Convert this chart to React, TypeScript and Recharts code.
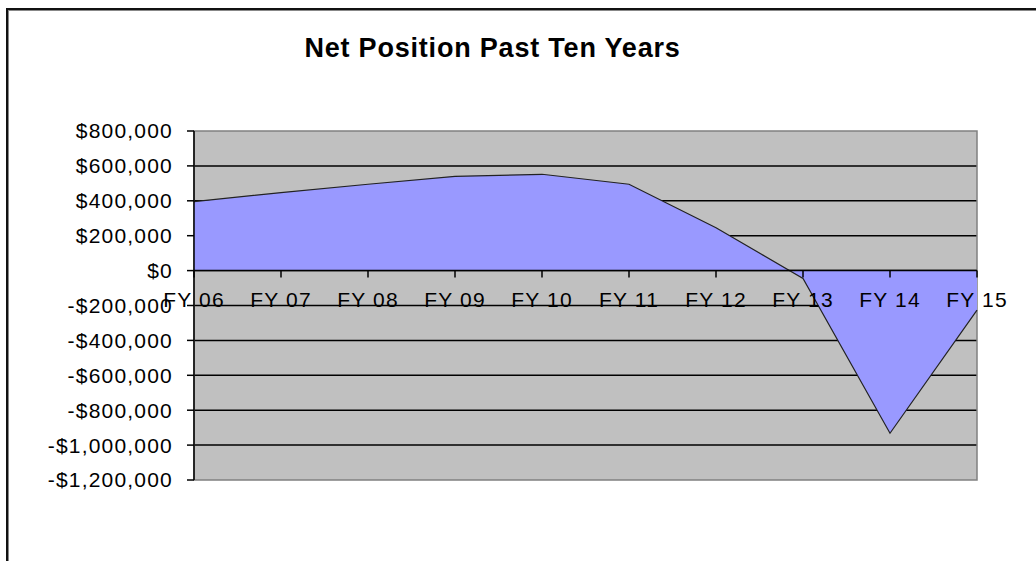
import React from "react";
import {
  AreaChart,
  Area,
  XAxis,
  YAxis,
  CartesianGrid,
  ReferenceLine,
  ReferenceArea,
} from "recharts";

const YEARS = ["FY 06", "FY 07", "FY 08", "FY 09", "FY 10", "FY 11", "FY 12", "FY 13", "FY 14", "FY 15"];
const NET_POSITION = [395000, 447000, 495000, 540000, 552000, 495000, 246000, -45000, -932000, -226000];
const Y_TICKS = [800000, 600000, 400000, 200000, 0, -200000, -400000, -600000, -800000, -1000000, -1200000];
const GRID_VALUES = [600000, 400000, 200000, 0, -200000, -400000, -600000, -800000, -1000000];
const TITLE = "Net Position Past Ten Years";

const Y_MIN = -1200000;
const Y_MAX = 800000;

const data = YEARS.map((year, i) => ({ year, value: NET_POSITION[i] }));

const WIDTH = 1036;
const HEIGHT = 561;
const MARGIN = { top: 131, right: 59, bottom: 80, left: 0 };
const X_AXIS_H = 1;
const PLOT_H = HEIGHT - MARGIN.top - MARGIN.bottom - X_AXIS_H;
const ZERO_Y = MARGIN.top + (PLOT_H * (Y_MAX - 0)) / (Y_MAX - Y_MIN);

const FONT = "'Liberation Sans', Arial, sans-serif";

const fmt = (v: number) =>
  v < 0 ? `-$${Math.abs(v).toLocaleString("en-US")}` : `$${v.toLocaleString("en-US")}`;

function XTick(props: any) {
  const { x, payload } = props;
  return (
    <g>
      <line x1={x} x2={x} y1={ZERO_Y} y2={ZERO_Y + 7} stroke="#000" strokeWidth={1.5} />
      <text
        x={x}
        y={ZERO_Y + 36}
        textAnchor="middle"
        fontFamily={FONT}
        fontSize={21}
        letterSpacing={1.2}
        fill="#000"
      >
        {payload.value}
      </text>
    </g>
  );
}

export default function App() {
  return (
    <div style={{ position: "absolute", left: 0, top: 0, width: WIDTH, height: HEIGHT, overflow: "hidden", background: "#fff" }}>
      <div
        style={{
          position: "absolute",
          left: 6,
          top: 8,
          width: 1200,
          height: 800,
          borderLeft: "2px solid #111",
          borderTop: "2px solid #111",
          boxShadow: "inset 1px 1px 0 #888",
        }}
      />
      <div
        style={{
          position: "absolute",
          left: 0,
          top: 35,
          width: 985,
          textAlign: "center",
          fontFamily: FONT,
          fontWeight: "bold",
          fontSize: 27,
          lineHeight: "27px",
          letterSpacing: 0.8,
          color: "#000",
        }}
      >
        {TITLE}
      </div>
      <div style={{ position: "absolute", left: 0, top: 0 }}>
        <AreaChart width={WIDTH} height={HEIGHT} data={data} margin={MARGIN}>
          <CartesianGrid
            vertical={false}
            horizontal={true}
            horizontalValues={GRID_VALUES}
            stroke="#000"
            strokeWidth={1.5}
            fill="#C0C0C0"
            fillOpacity={1}
          />
          <ReferenceArea y1={Y_MIN} y2={Y_MAX} fill="none" stroke="#808080" strokeWidth={1.5} ifOverflow="visible" />
          <Area
            type="linear"
            dataKey="value"
            stroke="#222"
            strokeWidth={1.2}
            fill="#9999FF"
            fillOpacity={1}
            isAnimationActive={false}
          />
          <ReferenceLine y={0} stroke="#000" strokeWidth={1.5} />
          <YAxis
            type="number"
            domain={[Y_MIN, Y_MAX]}
            ticks={Y_TICKS}
            interval={0}
            width={194}
            tickSize={7}
            tickMargin={14}
            tickFormatter={fmt}
            axisLine={{ stroke: "#000", strokeWidth: 1.5 }}
            tickLine={{ stroke: "#000", strokeWidth: 1.5 }}
            tick={{ fill: "#000", fontSize: 21, fontFamily: FONT, letterSpacing: 1.2 }}
          />
          <XAxis
            dataKey="year"
            height={X_AXIS_H}
            interval={0}
            axisLine={false}
            tickLine={false}
            tick={<XTick />}
          />
        </AreaChart>
      </div>
    </div>
  );
}
